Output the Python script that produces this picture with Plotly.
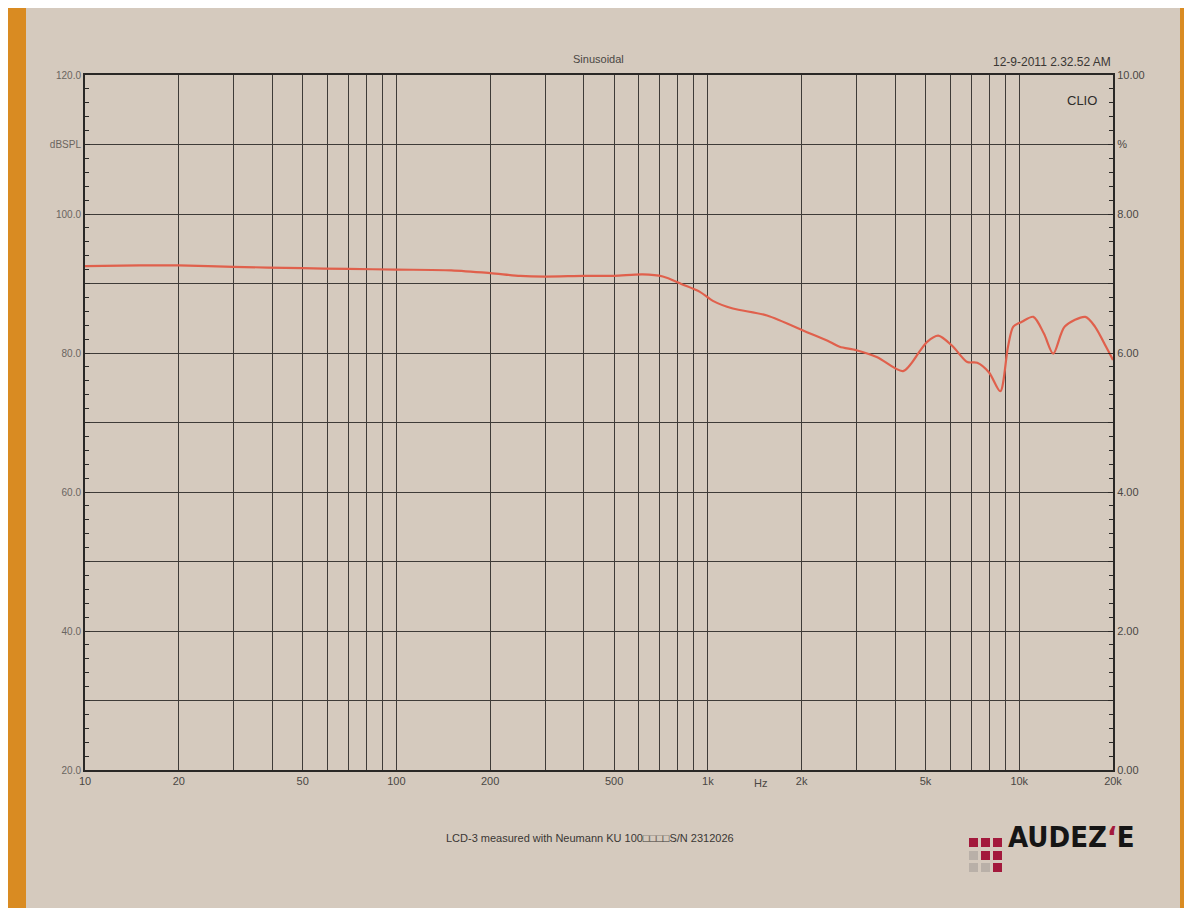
import plotly.graph_objects as go

# ---- data ----
freq_hz = [10, 15, 20, 30, 50, 70, 100, 150, 200, 250, 300, 400, 500, 618, 717, 825, 943,
           1038, 1203, 1549, 2081, 2467, 2650, 3000, 3500, 4236, 4800, 5060, 5495, 6100,
           6808, 7328, 8000, 8690, 9200, 9570, 10200, 11100, 12000, 12860, 14000, 16300,
           17500, 19000, 20000]
spl_db = [92.5, 92.6, 92.6, 92.4, 92.2, 92.1, 92.0, 91.9, 91.5, 91.1, 91.0, 91.1, 91.1, 91.3,
          91.0, 89.9, 88.8, 87.5, 86.4, 85.4, 83.0, 81.6, 80.9, 80.4, 79.4, 77.4, 80.3, 81.6,
          82.5, 81.0, 78.7, 78.6, 77.2, 74.5, 80.9, 83.8, 84.5, 85.2, 82.8, 79.9, 83.8, 85.2,
          83.8, 80.9, 79.0]

x_grid = [10, 20, 30, 40, 50, 60, 70, 80, 90, 100, 200, 300, 400, 500, 600, 700, 800, 900,
          1000, 2000, 3000, 4000, 5000, 6000, 7000, 8000, 9000, 10000, 20000]
x_labels = {10: "10", 20: "20", 50: "50", 100: "100", 200: "200", 500: "500", 1000: "1k",
            2000: "2k", 5000: "5k", 10000: "10k", 20000: "20k"}
y_left_vals = [20, 30, 40, 50, 60, 70, 80, 90, 100, 110, 120]
y_left_text = ["20.0", "", "40.0", "", "60.0", "", "80.0", "", "100.0", "dBSPL", "120.0"]
y_right_vals = [0, 1, 2, 3, 4, 5, 6, 7, 8, 9, 10]
y_right_text = ["0.00", "", "2.00", "", "4.00", "", "6.00", "", "8.00", "%", "10.00"]

title_text = "Sinusoidal"
date_text = "12-9-2011 2.32.52 AM"
footer_text = "LCD-3 measured with Neumann KU 100\u25a1\u25a1\u25a1\u25a1S/N 2312026"

# ---- layout geometry (page pixels; the page body adds an 8px offset) ----
OFF = 8
W, H = 1192 - OFF, 908 - OFF
L, R, T, B = 85, 1113, 75, 770          # plot area in page pixels
PW, PH = R - L, B - T


def xp(px):
    return (px - L) / PW


def yp(py):
    return (B - py) / PH


SHEET = "#d5cabe"
GRID = "#3e3b38"
FONT = "Liberation Sans, Arial, sans-serif"

fig = go.Figure()
fig.add_trace(go.Scatter(x=freq_hz, y=spl_db, mode="lines",
                         line=dict(color="#e0604c", width=2.2, shape="spline", smoothing=0.8),
                         hoverinfo="skip", showlegend=False))
# helper trace so the right-hand % axis is drawn
fig.add_trace(go.Scatter(x=[10], y=[0], yaxis="y2", mode="markers",
                         marker=dict(opacity=0), hoverinfo="skip", showlegend=False))

shapes = [
    dict(type="rect", xref="paper", yref="paper", x0=xp(26), x1=xp(1180), y0=yp(915), y1=yp(0),
         fillcolor=SHEET, line=dict(width=0), layer="below"),
]
# logo squares
cols = [969, 981, 993]
rows = [838, 851, 863]
pattern = [["r", "r", "r"], ["g", "r", "r"], ["g", "g", "r"]]
cmap = {"r": "#a3193c", "g": "#b9b0a8"}
for ri, ry in enumerate(rows):
    for ci, cx in enumerate(cols):
        shapes.append(dict(type="rect", xref="paper", yref="paper",
                           x0=xp(cx), x1=xp(cx + 9), y0=yp(ry + 9), y1=yp(ry),
                           fillcolor=cmap[pattern[ri][ci]], line=dict(width=0)))

annotations = [
    dict(text=title_text, x=xp(598), y=yp(51), xref="paper", yref="paper", showarrow=False,
         font=dict(family=FONT, size=11, color="#4a4744")),
    dict(text=date_text, x=xp(1113), y=yp(53), xref="paper", yref="paper", showarrow=False,
         xanchor="right", font=dict(family=FONT, size=12, color="#3a3734")),
    dict(text="CLIO", x=xp(1099), y=yp(91), xref="paper", yref="paper", showarrow=False,
         xanchor="right", font=dict(family=FONT, size=13, color="#2e2b29")),
    dict(text="Hz", x=3.17, y=yp(791), xref="x", yref="paper", showarrow=False,
         font=dict(family=FONT, size=11, color="#4a4744")),
    dict(text=footer_text, x=xp(590), y=yp(846), xref="paper", yref="paper", showarrow=False,
         font=dict(family=FONT, size=11, color="#3a3734")),
    dict(text="<b>AUDEZ<span style='color:#a3193c'>\u2018</span>E</b>", x=xp(1006), y=yp(856),
         xref="paper", yref="paper", showarrow=False, xanchor="left",
         font=dict(family="Liberation Sans Narrow, DejaVu Sans Condensed, sans-serif",
                   size=29, color="#151515")),
]

fig.update_layout(
    width=W, height=H,
    margin=dict(l=L - OFF, r=1192 - R, t=T - OFF, b=908 - B),
    paper_bgcolor="#d98b22",
    plot_bgcolor=SHEET,
    shapes=shapes,
    annotations=annotations,
    xaxis=dict(type="log", range=[1, 4.30103], tickvals=x_grid,
               ticktext=[x_labels.get(v, "") for v in x_grid],
               showgrid=True, gridcolor=GRID, gridwidth=1.3,
               showline=True, linecolor="#2a2826", linewidth=2, mirror=True,
               ticks="", zeroline=False,
               tickfont=dict(family=FONT, size=11, color="#4a4744")),
    yaxis=dict(range=[20, 120], tickvals=y_left_vals, ticktext=y_left_text,
               showgrid=True, gridcolor=GRID, gridwidth=1.3,
               showline=True, linecolor="#2a2826", linewidth=2,
               ticks="inside", ticklen=5, tickcolor="#2a2826", zeroline=False,
               minor=dict(dtick=2, ticks="inside", ticklen=4, tickcolor="#2a2826", showgrid=False),
               tickfont=dict(family=FONT, size=10, color="#6a6560")),
    yaxis2=dict(range=[0, 10], overlaying="y", side="right", tickvals=y_right_vals,
                ticktext=y_right_text, showgrid=False,
                showline=True, linecolor="#2a2826", linewidth=2,
                ticks="inside", ticklen=5, tickcolor="#2a2826", zeroline=False,
                minor=dict(dtick=0.2, ticks="inside", ticklen=4, tickcolor="#2a2826", showgrid=False),
                tickfont=dict(family=FONT, size=11, color="#4a4744")),
    showlegend=False,
)

fig.write_html("out.html")
